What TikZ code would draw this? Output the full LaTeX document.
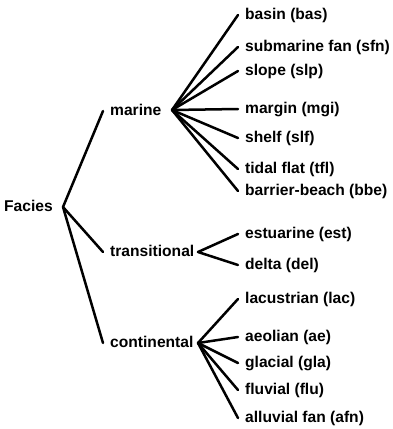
\documentclass[tikz,border=0pt]{standalone}
\usepackage{fontspec}
\setmainfont{Liberation Sans}
\begin{document}
\begin{tikzpicture}[x=1pt,y=-1pt,
  lbl/.style={anchor=west,inner ysep=0pt,inner xsep=7pt,font=\bfseries\fontsize{15.6}{18}\selectfont,text height=11pt,text depth=3pt},
  root/.style={lbl,inner xsep=0pt},
  edge/.style={line width=2.5pt,line cap=round}]
\useasboundingbox (0,0) rectangle (392,429);
% root
\node[root] (facies) at (4,207) {Facies};
\coordinate (fv) at (63,207);
% level 1
\node[lbl] (marine) at (103,111) {marine};
\node[lbl] (trans) at (103,252) {transitional};
\node[lbl] (cont) at (103,343) {continental};
\coordinate (mv) at (172,110);
\coordinate (tv) at (198,252);
\coordinate (cv) at (198,343);
% marine children
\node[lbl] (bas) at (238,15) {basin (bas)};
\node[lbl] (sfn) at (238,47) {submarine fan (sfn)};
\node[lbl] (slp) at (238,71) {slope (slp)};
\node[lbl] (mgi) at (238,109) {margin (mgi)};
\node[lbl] (slf) at (238,138) {shelf (slf)};
\node[lbl] (tfl) at (238,169) {tidal flat (tfl)};
\node[lbl] (bbe) at (238,191) {barrier-beach (bbe)};
% transitional children
\node[lbl] (est) at (238,234) {estuarine (est)};
\node[lbl] (del) at (238,265) {delta (del)};
% continental children
\node[lbl] (lac) at (238,299) {lacustrian (lac)};
\node[lbl] (ae) at (238,337) {aeolian (ae)};
\node[lbl] (gla) at (238,363) {glacial (gla)};
\node[lbl] (flu) at (238,390) {fluvial (flu)};
\node[lbl] (afn) at (238,418) {alluvial fan (afn)};
% connectors
\foreach \c in {marine,trans,cont} \draw[edge] (fv) -- (\c.west);
\foreach \c in {bas,sfn,slp,mgi,slf,tfl,bbe} \draw[edge] (mv) -- (\c.west);
\foreach \c in {est,del} \draw[edge] (tv) -- (\c.west);
\foreach \c in {lac,ae,gla,flu,afn} \draw[edge] (cv) -- (\c.west);
\end{tikzpicture}
\end{document}
